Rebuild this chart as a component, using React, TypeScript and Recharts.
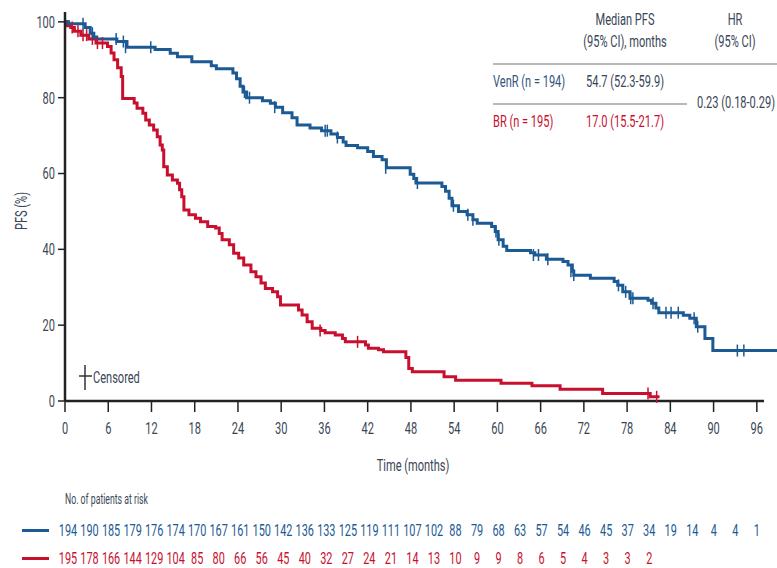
import { ComposedChart, Line, Scatter, XAxis, YAxis, ReferenceLine } from "recharts";

document.body.style.margin = "0";

const font = "Roboto, 'Liberation Sans', sans-serif";
const squeeze = 0.69; // the source uses a condensed face; squeeze Roboto to match
const blue = "#1c5a94";
const red = "#c8102e";
const ink = "#3a4656";

// Kaplan-Meier steps: [month, PFS %]
const venR: [number, number][] = [
  [0, 100], [0.5, 99.5], [2.8, 98.5], [3.5, 97], [4, 96], [4.4, 95.5], [7.2, 94.8], [8.6, 93.3],
  [12.5, 92.7], [14.6, 91.7], [15.6, 90.8], [17.6, 89.5], [20.3, 88.4], [21, 87.6], [23.3, 86.5],
  [23.8, 85], [24.3, 83], [24.7, 81.5], [25.2, 80], [27.4, 79.2], [28.5, 78.5], [29.2, 77.5],
  [30.2, 76], [31.5, 74.7], [32.2, 72.8], [34, 72], [35.6, 71.3], [36.9, 70.4], [37.8, 69.5],
  [38.6, 68.3], [39, 67.4], [40.6, 66.8], [42, 65.8], [42.8, 64.5], [44, 63.6], [44.6, 61.5],
  [47.9, 59.8], [48.4, 58.7], [48.7, 57.5], [52.3, 56.6], [52.8, 55.3], [53.3, 53.5], [53.7, 51.5],
  [54.6, 50], [55.8, 49.1], [56.6, 47.8], [57.2, 46.9], [59.2, 46], [59.7, 44.7], [60.1, 42.5],
  [60.8, 40.8], [61.3, 39.7], [64.6, 39.1], [65.2, 38.5], [66.8, 37.4], [69.1, 36.8], [69.8, 35.9],
  [70.4, 34.2], [70.6, 33.2], [72.9, 32.4], [76.2, 31.5], [76.7, 30.5], [77.4, 28.8], [78.4, 27.1],
  [80.9, 26.6], [81.4, 25.8], [82, 24.5], [82.4, 23.3], [85.8, 22.6], [86.7, 21.8], [87.6, 19.6],
  [88.8, 16.5], [89.9, 13.3], [98.8, 13.3],
];

const br: [number, number][] = [
  [0, 100], [0.3, 99], [0.8, 98.5], [1.3, 97.5], [2.2, 96.5], [3.3, 95.5], [4.3, 94.4], [5.9, 93.5],
  [6.4, 91.8], [6.8, 90], [7.3, 87.9], [7.8, 85.6], [8, 79.8], [9.6, 78.6], [10, 77.2], [10.8, 75.9],
  [11.2, 74.1], [11.7, 72.8], [12.3, 71.5], [12.8, 69.7], [13.2, 67.5], [13.5, 66.2], [13.7, 61.8],
  [14.2, 59.6], [14.9, 58.3], [15.6, 57.4], [15.9, 55.7], [16.2, 53.9], [16.5, 50.4], [17.2, 49.1],
  [18.1, 48.2], [18.8, 47.3], [19.8, 46], [20.9, 45.6], [21.4, 44.2], [21.8, 42.5], [22.8, 41.2],
  [23.4, 39], [24.1, 37.7], [24.8, 35.9], [25.8, 34.1], [26.5, 32.8], [27.2, 31.1], [27.8, 29.7],
  [28.8, 28.8], [29.5, 27.5], [29.9, 25.3], [32.4, 24], [32.9, 22.7], [33.6, 20.9], [34.3, 19.2],
  [35.5, 18.6], [36.1, 18], [37.5, 17.4], [38.5, 16.5], [38.9, 15.6], [41.7, 14.8], [42.1, 13.9],
  [43.5, 13.5], [44.2, 13], [47.3, 11.5], [47.7, 8.6], [48.2, 7.7], [52.6, 6.4], [54.2, 5.5],
  [60.5, 4.7], [64.8, 4], [68.7, 3.1], [74.6, 2], [81.2, 1.1], [82.5, 1.1],
];

const venRCensored: [number, number][] = [
  [2.5, 99.5], [3.8, 97], [7.1, 95.5], [8.1, 94.8], [8.4, 93.3], [11.9, 93.3], [24.9, 81.5],
  [25.6, 80], [29.1, 77.5], [36.1, 71.3], [36.4, 71.3], [37.8, 69.5], [44.5, 61.5], [48.9, 57.5],
  [53.9, 51.5], [55.9, 49.1], [56.6, 47.8], [59.8, 44.7], [60.2, 42.5], [65, 38.5], [65.7, 38.5],
  [67, 37.4], [70.2, 34.2], [70.6, 33.2], [76.8, 30.5], [77.8, 28.8], [78.5, 27.1], [78.8, 27.1],
  [81.6, 25.8], [83.4, 23.3], [84.1, 23.3], [85.1, 23.3], [87.3, 21.8], [87.8, 19.6],
  [93.3, 13.3], [94.2, 13.3],
];

const brCensored: [number, number][] = [
  [1, 98.5], [1.8, 97.5], [2.5, 96.5], [3, 96.5], [3.8, 95.5], [4.5, 94.4], [5.2, 94.4],
  [35.4, 18.6], [40.6, 15.6], [80.9, 2], [82.1, 1.1],
];

const riskTimes = [0, 3, 6, 9, 12, 15, 18, 21, 24, 27, 30, 33, 36, 39, 42, 45, 48, 51, 54, 57, 60, 63, 66, 69, 72, 75, 78, 81, 84, 87, 90, 93, 96];
const riskVenR = [194, 190, 185, 179, 176, 174, 170, 167, 161, 150, 142, 136, 133, 125, 119, 111, 107, 102, 88, 79, 68, 63, 57, 54, 46, 45, 37, 34, 19, 14, 4, 4, 1];
const riskBR = [195, 178, 166, 144, 129, 104, 85, 80, 66, 56, 45, 40, 32, 27, 24, 21, 14, 13, 10, 9, 9, 8, 6, 5, 4, 3, 3, 2];
const yTicks = [0, 20, 40, 60, 80, 100];

const toRows = (pts: [number, number][]) => pts.map(([t, p]) => ({ t, p }));

function SvgText({ x, y, anchor = "middle", color = ink, size = 16, sx = squeeze, children }: any) {
  return (
    <text
      transform={`translate(${x}, ${y}) scale(${sx}, 1)`}
      textAnchor={anchor}
      dominantBaseline="central"
      fill={color}
      fontFamily={font}
      fontSize={size}
    >
      {children}
    </text>
  );
}

function TimeTick({ x, y, payload }: any) {
  const v = payload.value as number;
  const i = riskTimes.indexOf(v);
  const major = v % 6 === 0;
  const shift = 3 - (i / 32) * 3;
  return (
    <g>
      {major && <line x1={x} y1={y} x2={x} y2={y + 11} stroke="#222" strokeWidth={1.5} />}
      {major && <SvgText x={x} y={y + 27}>{v}</SvgText>}
      <SvgText x={x + shift} y={y + 129} color={blue} size={17} sx={0.64}>{riskVenR[i]}</SvgText>
      {i < riskBR.length && (
        <SvgText x={x + shift} y={y + 157} color={red} size={17} sx={0.64}>{riskBR[i]}</SvgText>
      )}
    </g>
  );
}

function PfsTick({ x, y, payload }: any) {
  return <SvgText x={x} y={y} anchor="end">{payload.value}</SvgText>;
}

const censorMark = (color: string) => (props: any) => (
  <line x1={props.cx} y1={props.cy - 6} x2={props.cx} y2={props.cy + 6} stroke={color} strokeWidth={1.5} />
);

function Txt({ x, y, children, color = ink, align = "center", size = 16, sx = squeeze }: any) {
  const centered = align === "center";
  return (
    <div
      style={{
        position: "absolute",
        left: x,
        top: y,
        transform: centered ? `translate(-50%, -50%) scaleX(${sx})` : `translate(0, -50%) scaleX(${sx})`,
        transformOrigin: centered ? "center" : "left center",
        whiteSpace: "nowrap",
        fontFamily: font,
        fontSize: size,
        lineHeight: 1.2,
        color,
      }}
    >
      {children}
    </div>
  );
}

export default function App() {
  return (
    <div style={{ position: "relative", width: 777, height: 568, background: "#fff" }}>
      <ComposedChart width={777} height={568} margin={{ top: 12, right: 0, left: 0, bottom: 0 }}>
        <XAxis
          dataKey="t"
          type="number"
          domain={[0, 98.8]}
          ticks={riskTimes}
          interval={0}
          axisLine={false}
          tickLine={false}
          tickSize={0}
          tickMargin={0}
          height={167}
          tick={<TimeTick />}
        />
        <YAxis
          dataKey="p"
          type="number"
          domain={[0, 102.6]}
          ticks={yTicks}
          width={65}
          axisLine={{ stroke: "#222", strokeWidth: 2.5 }}
          tickLine={{ stroke: "#222", strokeWidth: 1.5 }}
          tickSize={7}
          tickMargin={3}
          tick={<PfsTick />}
        />
        <ReferenceLine
          segment={[{ x: 0, y: 0 }, { x: 97, y: 0 }]}
          stroke="#222"
          strokeWidth={2.5}
        />
        <Line data={toRows(br)} dataKey="p" type="stepAfter" stroke={red} strokeWidth={3} dot={false} isAnimationActive={false} />
        <Line data={toRows(venR)} dataKey="p" type="stepAfter" stroke={blue} strokeWidth={3} dot={false} isAnimationActive={false} />
        <Scatter data={toRows(brCensored)} dataKey="p" shape={censorMark(red)} isAnimationActive={false} />
        <Scatter data={toRows(venRCensored)} dataKey="p" shape={censorMark(blue)} isAnimationActive={false} />
      </ComposedChart>

      <div
        style={{
          position: "absolute",
          left: 22,
          top: 211,
          transform: `translate(-50%, -50%) rotate(-90deg) scaleX(${squeeze})`,
          fontFamily: font,
          fontSize: 16,
          lineHeight: 1.2,
          color: ink,
          whiteSpace: "nowrap",
        }}
      >
        PFS (%)
      </div>
      <Txt x={413} y={466}>Time (months)</Txt>

      <svg style={{ position: "absolute", left: 76, top: 364 }} width={20} height={28}>
        <line x1={9} y1={1} x2={9} y2={26} stroke="#333" strokeWidth={1.5} />
        <line x1={3} y1={12} x2={16} y2={12} stroke="#333" strokeWidth={1.5} />
      </svg>
      <Txt x={93} y={378} align="left">Censored</Txt>

      <Txt x={625} y={20}>Median PFS</Txt>
      <Txt x={625} y={42}>(95% CI), months</Txt>
      <Txt x={735} y={20}>HR</Txt>
      <Txt x={735} y={42}>(95% CI)</Txt>
      <div style={{ position: "absolute", left: 493, top: 63, width: 284, height: 2, background: "#b8b8b8" }} />
      <Txt x={493} y={82} align="left" color="#34547e">VenR (n = 194)</Txt>
      <Txt x={625} y={82}>54.7 (52.3-59.9)</Txt>
      <div style={{ position: "absolute", left: 493, top: 103, width: 194, height: 2, background: "#b8b8b8" }} />
      <Txt x={736} y={103}>0.23 (0.18-0.29)</Txt>
      <Txt x={493} y={122} align="left" color={red}>BR (n = 195)</Txt>
      <Txt x={625} y={122} color={red}>17.0 (15.5-21.7)</Txt>

      <Txt x={65} y={499} align="left" size={15} sx={0.58}>No. of patients at risk</Txt>
      <div style={{ position: "absolute", left: 22, top: 529, width: 27, height: 3, background: blue }} />
      <div style={{ position: "absolute", left: 22, top: 557, width: 27, height: 3, background: red }} />
    </div>
  );
}
